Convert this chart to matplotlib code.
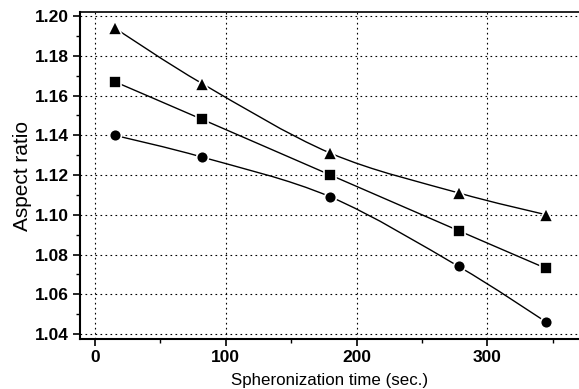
import matplotlib
matplotlib.use("Agg")
import matplotlib.pyplot as plt
import numpy as np
from matplotlib.path import Path
from matplotlib.patches import PathPatch
from matplotlib.ticker import MultipleLocator

plt.rcParams['font.family'] = ['Liberation Sans', 'DejaVu Sans']

# spheronization time (sec.)
times = [15, 82, 180, 278, 345]
# aspect ratio for the three series
ratio_tri = [1.194, 1.166, 1.131, 1.111, 1.100]
ratio_sq = [1.167, 1.148, 1.120, 1.092, 1.073]
ratio_circ = [1.140, 1.129, 1.109, 1.074, 1.046]
markers = ['^', 's', 'o']
msizes = [10.5, 8.5, 8.5]


def smooth_path(xs, ys):
    # cardinal (Catmull-Rom) curve through the points, as cubic bezier segments
    xs = np.asarray(xs, float)
    ys = np.asarray(ys, float)
    n = len(xs)
    verts = [(xs[0], ys[0])]
    codes = [Path.MOVETO]
    for i in range(n - 1):
        i0 = max(i - 1, 0)
        i3 = min(i + 2, n - 1)
        c1 = (xs[i] + (xs[i + 1] - xs[i0]) / 6, ys[i] + (ys[i + 1] - ys[i0]) / 6)
        c2 = (xs[i + 1] - (xs[i3] - xs[i]) / 6, ys[i + 1] - (ys[i3] - ys[i]) / 6)
        verts += [c1, c2, (xs[i + 1], ys[i + 1])]
        codes += [Path.CURVE4] * 3
    return Path(verts, codes)


fig = plt.figure(figsize=(5.79, 3.89), dpi=100)
ax = fig.add_axes([0.138, 0.1285, 0.862, 0.8405])

for ys, m, ms in zip([ratio_tri, ratio_sq, ratio_circ], markers, msizes):
    ax.add_patch(PathPatch(smooth_path(times, ys), facecolor='none',
                           edgecolor='black', lw=1.0, zorder=2))
    ax.plot(times, ys, linestyle='none', marker=m, markersize=ms,
            markerfacecolor='black', markeredgecolor='white',
            markeredgewidth=1.2, zorder=3, clip_on=False)

ax.set_xlim(-11.5, 370)
ax.set_ylim(1.0375, 1.202)
ax.xaxis.set_major_locator(MultipleLocator(100))
ax.xaxis.set_minor_locator(MultipleLocator(50))
ax.yaxis.set_major_locator(MultipleLocator(0.02))
ax.yaxis.set_minor_locator(MultipleLocator(0.01))
ax.yaxis.set_major_formatter(matplotlib.ticker.FormatStrFormatter('%.2f'))

ax.grid(True, which='major', color='black', linestyle=(0, (1.5, 3)), lw=0.8)
ax.tick_params(which='major', direction='out', length=5, width=1.2,
               labelsize=12.5, pad=3)
ax.tick_params(which='minor', direction='out', length=3, width=1.0)
ax.tick_params(top=False, right=False, which='both')
for lab in ax.get_xticklabels() + ax.get_yticklabels():
    lab.set_fontweight('bold')

ax.spines['left'].set_linewidth(1.5)
ax.spines['bottom'].set_linewidth(1.5)
ax.spines['top'].set_linewidth(1.2)
ax.spines['right'].set_visible(False)

ax.set_xlabel('Spheronization time (sec.)', fontsize=12.2, labelpad=6)
ax.set_ylabel('Aspect ratio', fontsize=15, labelpad=2)

fig.savefig('out.png', dpi=100)
